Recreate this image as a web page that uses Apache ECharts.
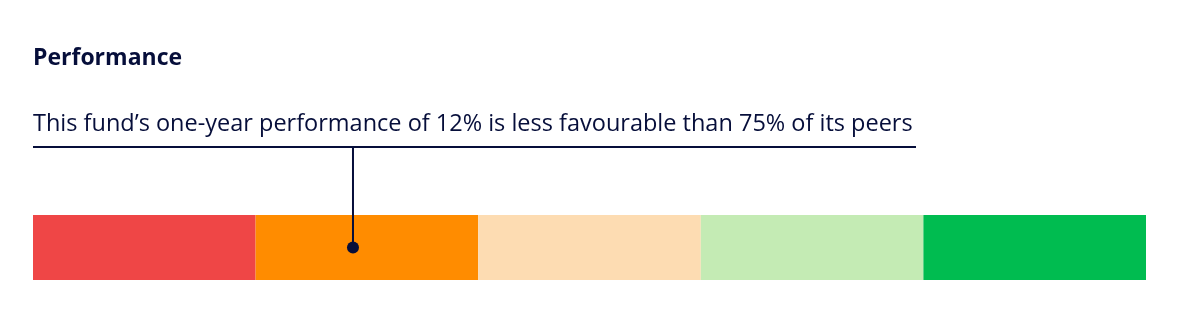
<!DOCTYPE html>
<html>
<head>
<meta charset="utf-8">
<script src="https://cdn.jsdelivr.net/npm/echarts@6/dist/echarts.min.js"></script>
<style>
html,body{margin:0;padding:0;background:#fff;}
#chart{width:1184px;height:325px;}
</style>
</head>
<body>
<div id="chart"></div>
<script>
// Data
const titleText = 'Performance';
const subtitleText = 'This fund\u2019s one-year performance of 12% is less favourable than 75% of its peers';
const bandNames = ['Band 1', 'Band 2', 'Band 3', 'Band 4', 'Band 5'];
const bandSizes = [20, 20, 20, 20, 20];
const bandColors = ['#EF4646', '#FF8C00', '#FDDCB2', '#C4EBB4', '#00BC50'];
const fundPosition = 28.75; // position on 0-100 peer scale
const categories = ['peers'];

const navy = '#060E3A';
const chart = echarts.init(document.getElementById('chart'), null, {renderer: 'canvas'});

const barSeries = bandNames.map((n, i) => ({
  name: n,
  type: 'bar',
  stack: 'bands',
  xAxisIndex: 0,
  yAxisIndex: 0,
  barWidth: '100%',
  silent: true,
  itemStyle: {color: bandColors[i]},
  data: [bandSizes[i]]
}));

chart.setOption({
  animation: false,
  title: [
    {text: titleText, left: 28, top: 42,
     textStyle: {fontFamily: 'Open Sans', fontWeight: 'bold', fontSize: 23, color: navy}},
    {text: subtitleText, left: 28, top: 107,
     textStyle: {fontFamily: 'Open Sans', fontWeight: 'normal', fontSize: 23.5, color: navy}}
  ],
  grid: [
    {left: 33, right: 38, top: 215, height: 65},
    {left: 33, right: 38, top: 147, height: 100.5}
  ],
  xAxis: [
    {type: 'value', gridIndex: 0, min: 0, max: 100, show: false},
    {type: 'value', gridIndex: 1, min: 0, max: 100, show: false}
  ],
  yAxis: [
    {type: 'category', gridIndex: 0, data: categories, show: false},
    {type: 'value', gridIndex: 1, min: 0, max: 1, show: false}
  ],
  series: barSeries.concat([
    {
      type: 'line',
      xAxisIndex: 1, yAxisIndex: 1,
      symbol: 'none',
      silent: true,
      lineStyle: {color: navy, width: 2},
      data: [[fundPosition, 0], [fundPosition, 1]],
      z: 5
    },
    {
      type: 'scatter',
      xAxisIndex: 0, yAxisIndex: 0,
      symbol: 'circle',
      symbolSize: 12,
      silent: true,
      itemStyle: {color: navy, opacity: 1},
      data: [[fundPosition, categories[0]]],
      z: 6
    }
  ]),
  graphic: [
    {type: 'line', shape: {x1: 33, y1: 147, x2: 916, y2: 147},
     style: {stroke: navy, lineWidth: 2}, silent: true}
  ]
});
</script>
</body>
</html>
